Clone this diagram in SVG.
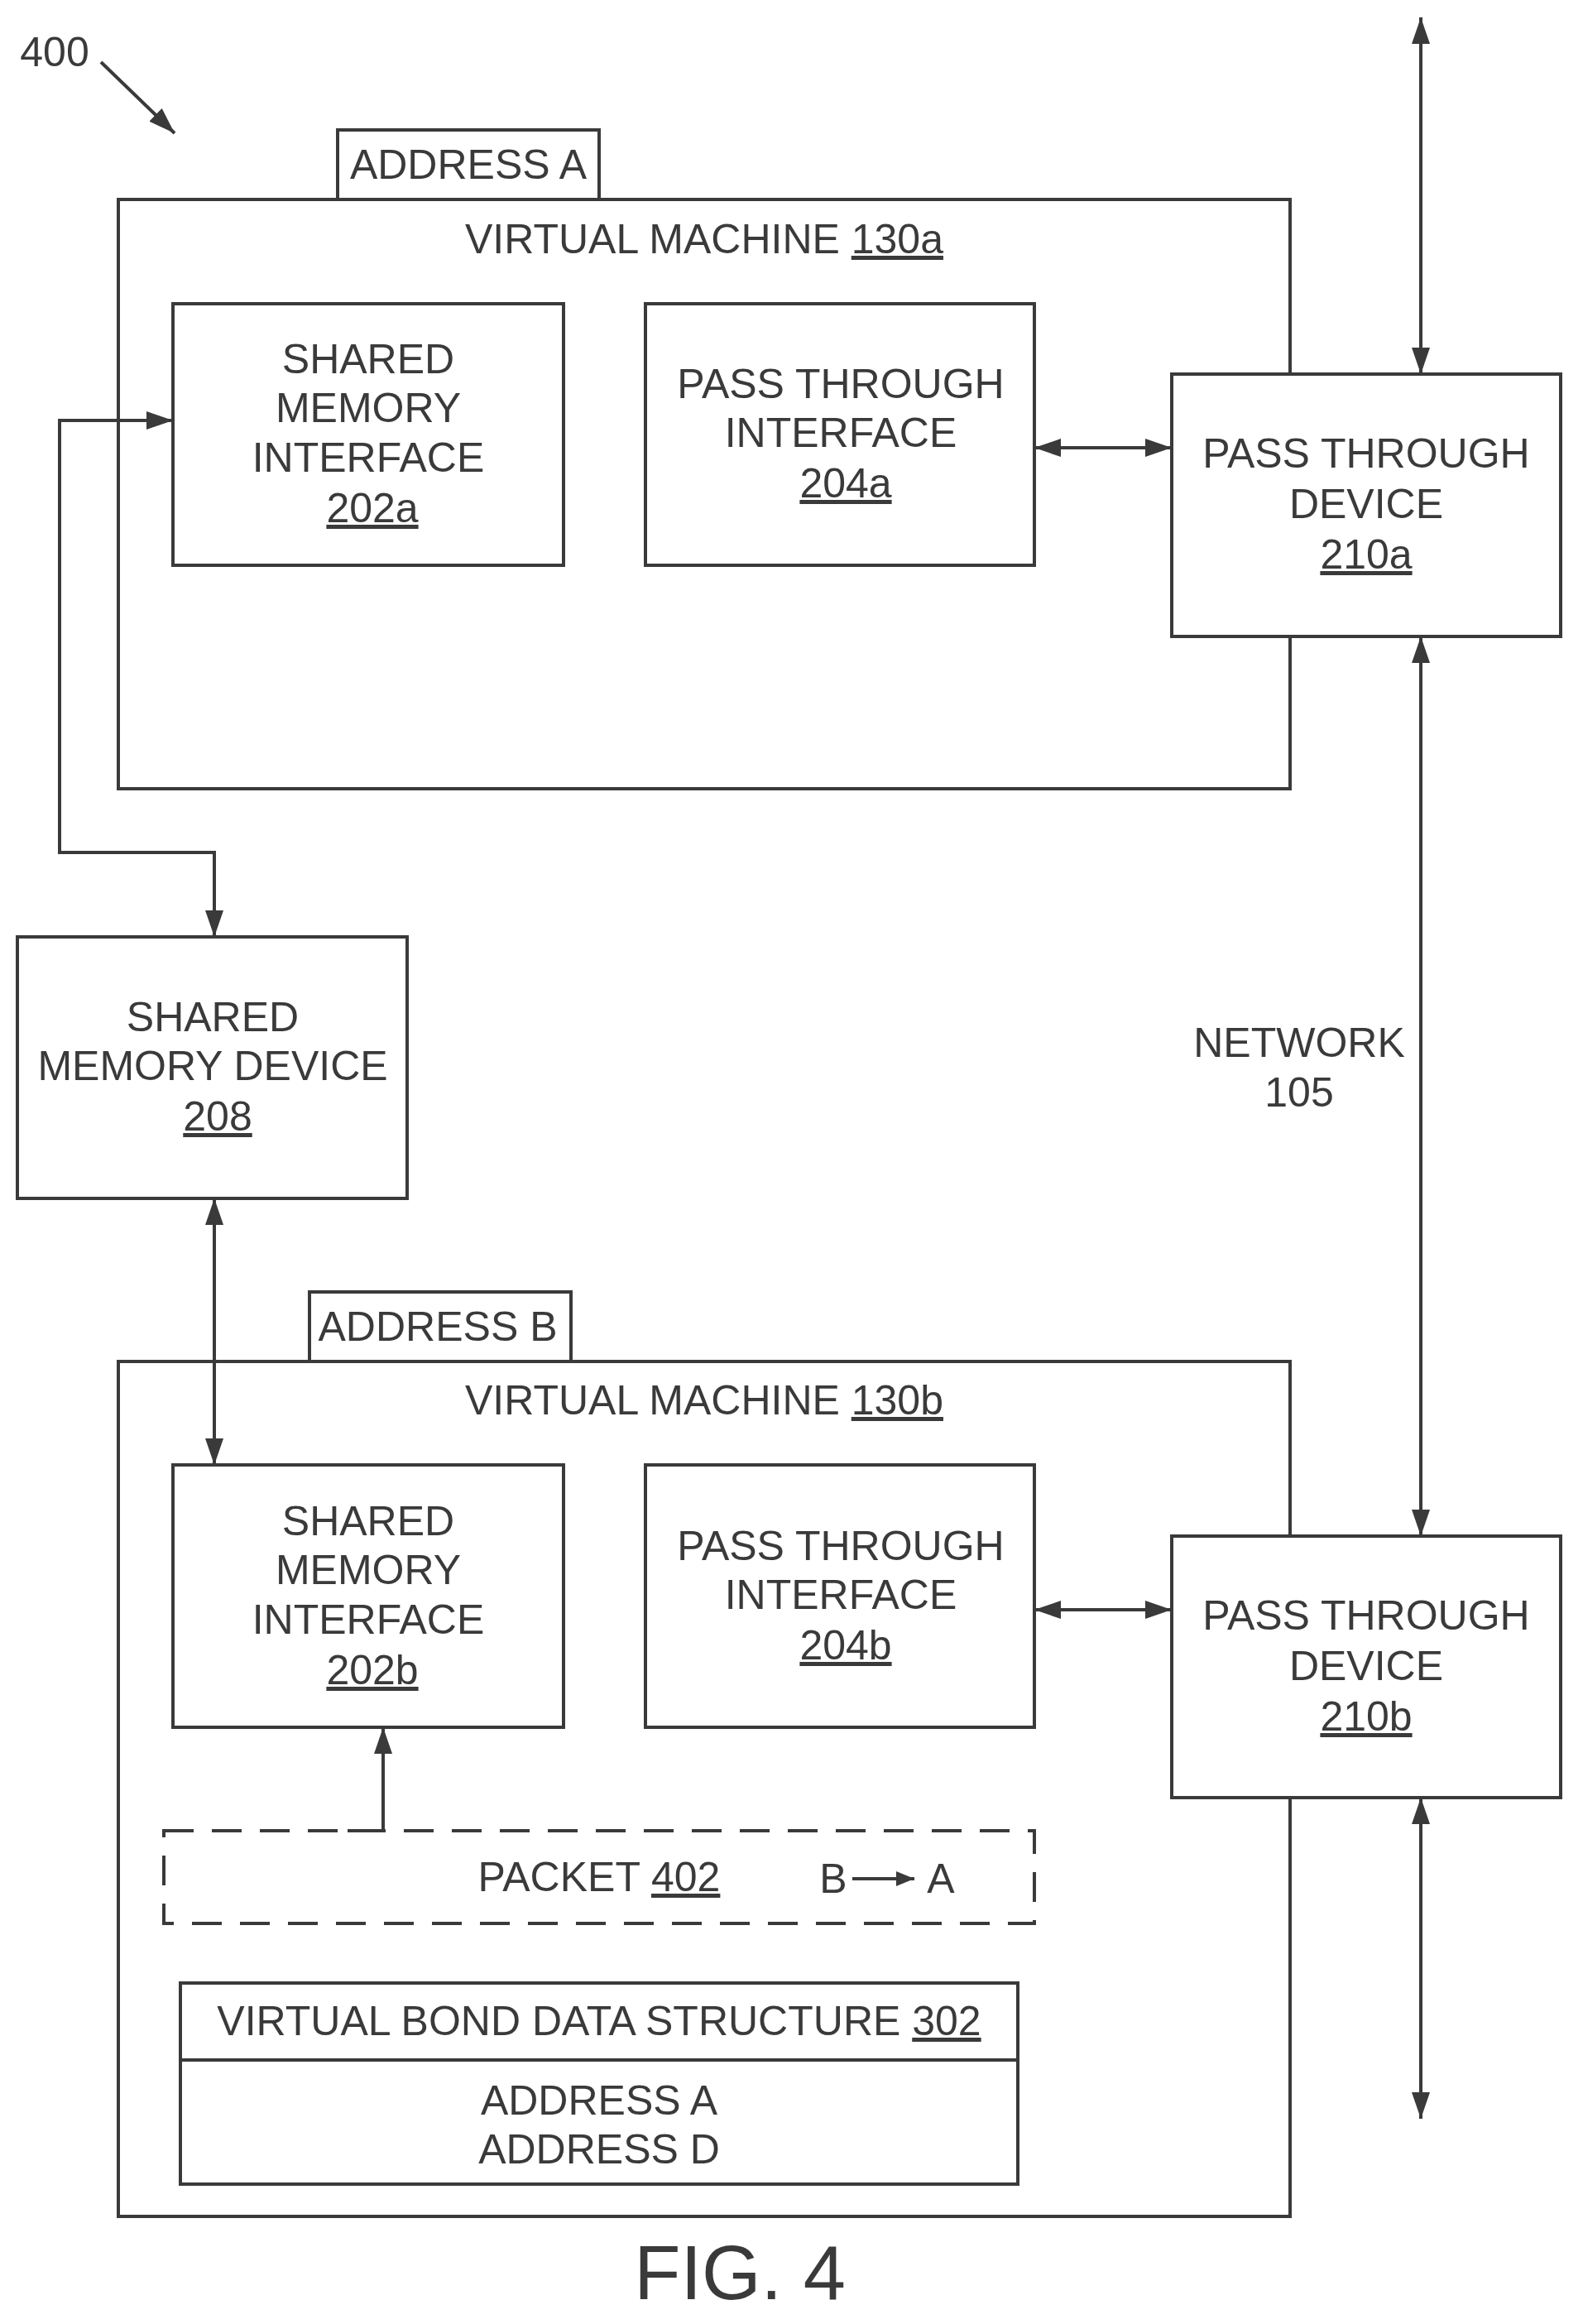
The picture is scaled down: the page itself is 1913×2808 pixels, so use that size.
<svg xmlns="http://www.w3.org/2000/svg" width="1913" height="2808" viewBox="0 0 1913 2808">
<style>
.b{fill:#fff;stroke:#3a3a3a;stroke-width:4}
.t{font-family:"Liberation Sans",Arial,sans-serif;font-size:50px;fill:#3a3a3a;text-anchor:middle}
.u{text-decoration:underline}
.c{fill:none;stroke:#3a3a3a;stroke-width:4}
</style>
<defs>
<marker id="ah" viewBox="0 0 10 10" refX="10" refY="5" markerWidth="32" markerHeight="22" markerUnits="userSpaceOnUse" orient="auto-start-reverse" preserveAspectRatio="none">
<path d="M0,0 L10,5 L0,10 Z" fill="#3a3a3a"/>
</marker>
<marker id="sm" viewBox="0 0 10 10" refX="10" refY="5" markerWidth="22" markerHeight="18" markerUnits="userSpaceOnUse" orient="auto" preserveAspectRatio="none">
<path d="M0,0 L10,5 L0,10 Z" fill="#3a3a3a"/>
</marker>
</defs>
<text class="t" x="66" y="80">400</text>
<g id="vma">
<rect class="b" x="408" y="157" width="316" height="84"/>
<text class="t" x="566" y="216">ADDRESS A</text>
<rect class="b" x="143" y="241" width="1416" height="712"/>
<text class="t" x="851" y="306">VIRTUAL MACHINE <tspan class="u">130a</tspan></text>
</g>
<g id="n202a"><rect class="b" x="209" y="367" width="472" height="316"/>
<text class="t" x="445" y="451">SHARED</text><text class="t" x="445" y="510">MEMORY</text><text class="t" x="445" y="570">INTERFACE</text><text class="t u" x="450" y="631">202a</text></g>
<g id="n204a"><rect class="b" x="780" y="367" width="470" height="316"/>
<text class="t" x="1016" y="481">PASS THROUGH</text><text class="t" x="1016" y="540">INTERFACE</text><text class="t u" x="1022" y="601">204a</text></g>
<g id="n210a"><rect class="b" x="1416" y="452" width="470" height="317"/>
<text class="t" x="1651" y="565">PASS THROUGH</text><text class="t" x="1651" y="626">DEVICE</text><text class="t u" x="1651" y="687">210a</text></g>
<g id="n208"><rect class="b" x="21" y="1132" width="471" height="316"/>
<text class="t" x="257" y="1246">SHARED</text><text class="t" x="257" y="1305">MEMORY DEVICE</text><text class="t u" x="263" y="1366">208</text></g>
<text class="t" x="1570" y="1277">NETWORK</text><text class="t" x="1570" y="1337">105</text>
<g id="vmb">
<rect class="b" x="374" y="1561" width="316" height="84"/>
<text class="t" x="529" y="1620">ADDRESS B</text>
<rect class="b" x="143" y="1645" width="1416" height="1033"/>
<text class="t" x="851" y="1709">VIRTUAL MACHINE <tspan class="u">130b</tspan></text>
</g>
<g id="n202b"><rect class="b" x="209" y="1770" width="472" height="317"/>
<text class="t" x="445" y="1855">SHARED</text><text class="t" x="445" y="1914">MEMORY</text><text class="t" x="445" y="1974">INTERFACE</text><text class="t u" x="450" y="2035">202b</text></g>
<g id="n204b"><rect class="b" x="780" y="1770" width="470" height="317"/>
<text class="t" x="1016" y="1885">PASS THROUGH</text><text class="t" x="1016" y="1944">INTERFACE</text><text class="t u" x="1022" y="2005">204b</text></g>
<g id="n210b"><rect class="b" x="1416" y="1856" width="470" height="316"/>
<text class="t" x="1651" y="1969">PASS THROUGH</text><text class="t" x="1651" y="2030">DEVICE</text><text class="t u" x="1651" y="2091">210b</text></g>
<g id="n402"><rect x="198" y="2212" width="1052" height="112" fill="#fff" stroke="#3a3a3a" stroke-width="4" stroke-dasharray="36,22"/>
<text class="t" x="724" y="2285">PACKET <tspan class="u">402</tspan></text>
<text class="t" x="1007" y="2287">B</text><text class="t" x="1137" y="2287">A</text>
<line class="c" x1="1030" y1="2270" x2="1105" y2="2270" marker-end="url(#sm)"/></g>
<g id="n302"><rect class="b" x="218" y="2396" width="1012" height="243"/>
<line class="c" x1="218" y1="2489" x2="1230" y2="2489"/>
<text class="t" x="724" y="2459">VIRTUAL BOND DATA STRUCTURE <tspan class="u">302</tspan></text>
<text class="t" x="724" y="2555">ADDRESS A</text><text class="t" x="724" y="2614">ADDRESS D</text></g>
<g id="connectors">
<line class="c" x1="122" y1="75" x2="211" y2="161" marker-end="url(#ah)"/>
<line class="c" x1="1717" y1="21" x2="1717" y2="452" marker-start="url(#ah)" marker-end="url(#ah)"/>
<line class="c" x1="1717" y1="769" x2="1717" y2="1856" marker-start="url(#ah)" marker-end="url(#ah)"/>
<line class="c" x1="1717" y1="2172" x2="1717" y2="2560" marker-start="url(#ah)" marker-end="url(#ah)"/>
<line class="c" x1="1250" y1="541" x2="1416" y2="541" marker-start="url(#ah)" marker-end="url(#ah)"/>
<line class="c" x1="1250" y1="1945" x2="1416" y2="1945" marker-start="url(#ah)" marker-end="url(#ah)"/>
<polyline class="c" points="259,1132 259,1030 72,1030 72,508 209,508" marker-start="url(#ah)" marker-end="url(#ah)"/>
<line class="c" x1="259" y1="1448" x2="259" y2="1770" marker-start="url(#ah)" marker-end="url(#ah)"/>
<polyline class="c" points="420,2212 463,2212 463,2087" marker-end="url(#ah)"/>
</g>
<text x="894" y="2778" font-family="Liberation Sans,Arial,sans-serif" font-size="92" fill="#3a3a3a" text-anchor="middle">FIG. 4</text>
</svg>
